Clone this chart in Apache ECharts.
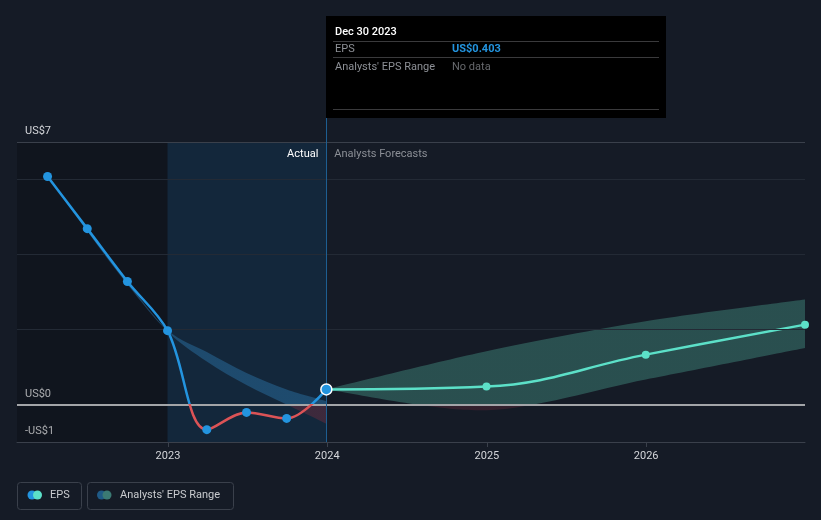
<!DOCTYPE html>
<html>
<head>
<meta charset="utf-8">
<script src="https://cdn.jsdelivr.net/npm/echarts@6/dist/echarts.min.js"></script>
<style>
html,body{margin:0;padding:0;background:#151b26;}
#c{width:821px;height:520px;}
</style>
</head>
<body>
<div id="c"></div>
<script>
// ---- data ----
const axisStart = '2022-01-20';
const axisEnd = '2026-12-31';
const pastEnd = '2022-12-31';
const actualEnd = '2023-12-30';

const epsDates = ['2022-03-31','2022-06-30','2022-09-30','2022-12-31','2023-03-31','2023-06-30','2023-09-30','2023-12-30'];
const epsValues = [6.08, 4.69, 3.28, 1.97, -0.67, -0.21, -0.37, 0.403];

const pastRangeDates = ['2022-03-31','2022-06-30','2022-09-30','2022-12-31','2023-03-31','2023-06-30','2023-09-30','2023-12-30'];
const pastRangeHigh = [6.08, 4.69, 3.28, 1.99, 1.40, 0.84, 0.40, 0.09];
const pastRangeLow  = [6.08, 4.62, 3.20, 1.95, 1.15, 0.52, 0.00, -0.51];

const forecastDates = ['2023-12-30','2024-12-31','2025-12-31','2026-12-31'];
const forecastValues = [0.403, 0.48, 1.33, 2.13];
const forecastHigh = [0.403, 1.42, 2.22, 2.80];
const forecastLow  = [0.403, -0.15, 0.67, 1.51];

const yearTicks = [2023, 2024, 2025, 2026];
const yGridValues = [2, 4, 6];
const yTopValue = 7;
const yMinValue = -1;
const yTickLabels = {'7': 'US$7', '0': 'US$0', '-1': '-US$1'};

const tooltipTitle = 'Dec 30 2023';
const tooltipRows = [['EPS', 'US$0.403'], ["Analysts' EPS Range", 'No data']];
const legendItems = ['EPS', "Analysts' EPS Range"];

// ---- helpers ----
const FONT = 'Roboto, "Noto Sans", "DejaVu Sans", sans-serif';
const ts = s => Date.parse(s + 'T00:00:00Z');
const pair = (d, v) => d.map((x, i) => [ts(x), v[i]]);
const yearTs = yearTicks.map(y => Date.UTC(y, 0, 1));

const BLUE = '#2394df', TEAL = '#5ce0c8', RED = '#dc5356';

function splitGradient(api, above, below) {
  const top = api.coord([ts(axisStart), yTopValue])[1];
  const bottom = api.coord([ts(axisStart), yMinValue])[1];
  const zero = api.coord([ts(axisStart), 0])[1];
  const f = (zero - top) / (bottom - top);
  return new echarts.graphic.LinearGradient(0, top, 0, bottom, [
    {offset: 0, color: above}, {offset: f, color: above}, {offset: f, color: below}, {offset: 1, color: below}
  ], true);
}
function curve(pts, k, first) {
  const fmt = p => p[0].toFixed(2) + ' ' + p[1].toFixed(2);
  let d = (first ? 'M' : 'L') + fmt(pts[0]);
  for (let i = 0; i < pts.length - 1; i++) {
    const p0 = pts[Math.max(i - 1, 0)], p1 = pts[i], p2 = pts[i + 1], p3 = pts[Math.min(i + 2, pts.length - 1)];
    const c1 = [p1[0] + (p2[0] - p0[0]) * k, p1[1] + (p2[1] - p0[1]) * k];
    const c2 = [p2[0] - (p3[0] - p1[0]) * k, p2[1] - (p3[1] - p1[1]) * k];
    d += ' C' + fmt(c1) + ' ' + fmt(c2) + ' ' + fmt(p2);
  }
  return d;
}
function bandSeries(id, dates, hi, lo, k, above, below) {
  return {
    id: id, type: 'custom', z: 2, silent: true, clip: true,
    data: dates.map((d, i) => [ts(d), hi[i], lo[i]]),
    encode: {x: 0, y: [1, 2]},
    renderItem: (params, api) => {
      if (params.dataIndex !== 0) return null;
      const up = dates.map((d, i) => api.coord([ts(d), hi[i]]));
      const dn = dates.map((d, i) => api.coord([ts(d), lo[i]])).reverse();
      return {type: 'path', shape: {pathData: curve(up, k, true) + ' ' + curve(dn, k, false) + ' Z'},
        style: {fill: splitGradient(api, above, below), stroke: null}};
    }
  };
}

const chart = echarts.init(document.getElementById('c'), null, {renderer: 'canvas'});

const option = {
  backgroundColor: '#151b26',
  animation: false,
  grid: {left: 17, right: 16, top: 142, bottom: 78},
  xAxis: {
    type: 'value', min: ts(axisStart), max: ts(axisEnd),
    splitLine: {show: false},
    axisLine: {onZero: false, lineStyle: {color: '#3a404b', width: 1}},
    axisTick: {customValues: yearTs, length: 5, lineStyle: {color: '#3a404b'}},
    axisLabel: {customValues: yearTs, formatter: v => String(new Date(v).getUTCFullYear()),
      color: '#d4d6da', fontSize: 11, margin: 9, fontFamily: FONT}
  },
  yAxis: {
    type: 'value', min: yMinValue, max: yTopValue, interval: 1,
    splitLine: {show: false}, axisLine: {show: false}, axisTick: {show: false},
    axisLabel: {inside: true, margin: 8, formatter: v => yTickLabels[String(v)] || '',
      color: '#d4d6da', fontSize: 11, fontFamily: FONT, verticalAlign: 'bottom', padding: [0, 0, 5, 0]}
  },
  series: [
    { // background regions + grid lines
      type: 'line', data: [], z: 1, silent: true,
      markArea: {silent: true, data: [
        [{xAxis: ts(axisStart), itemStyle: {color: 'rgba(0,0,0,0.2)'}}, {xAxis: ts(pastEnd)}],
        [{xAxis: ts(pastEnd), itemStyle: {color: 'rgba(14,64,105,0.32)'}}, {xAxis: ts(actualEnd)}]
      ]},
      markLine: {silent: true, symbol: ['none', 'none'], label: {show: false},
        lineStyle: {color: '#232a35', width: 1, type: 'solid'},
        data: yGridValues.map(v => ({yAxis: v})).concat([{yAxis: yTopValue, lineStyle: {color: '#3a404b', type: 'solid', width: 1}}])}
    },
    bandSeries('pastBand', pastRangeDates, pastRangeHigh, pastRangeLow, 0.17, 'rgba(41,110,160,0.5)', 'rgba(120,45,62,0.42)'),
    bandSeries('futBand', forecastDates, forecastHigh, forecastLow, 0.15, 'rgba(62,131,120,0.5)', 'rgba(120,45,62,0.3)'),
    { // zero line + divider
      type: 'line', data: [], z: 3, silent: true,
      markLine: {silent: true, symbol: ['none', 'none'], label: {show: false},
        data: [
          {yAxis: 0, lineStyle: {color: '#a3a5a8', width: 2, type: 'solid'}},
          {xAxis: ts(actualEnd), lineStyle: {color: '#1d5e91', width: 1, type: 'solid'}}
        ]}
    },
    { // forecast line
      id: 'fcLine', type: 'line', data: pair(forecastDates, forecastValues).map((p, i) => i === 0 ? {value: p, symbol: 'none'} : p),
      smooth: 0.4, symbol: 'circle', symbolSize: 8, showSymbol: true,
      lineStyle: {color: TEAL, width: 2.5}, itemStyle: {color: TEAL, opacity: 1}, z: 4, silent: true
    },
    { // EPS line
      id: 'epsLine', type: 'line', data: pair(epsDates, epsValues), smooth: 0.35, symbol: 'none',
      lineStyle: {width: 2.5, color: BLUE}, z: 5, silent: true
    },
    { // EPS markers
      type: 'scatter', data: pair(epsDates, epsValues).map((p, i, a) => i === a.length - 1
        ? {value: p, symbolSize: 11, itemStyle: {color: BLUE, borderColor: '#ffffff', borderWidth: 1.5, opacity: 1}} : p),
      symbolSize: 9, itemStyle: {color: BLUE, opacity: 1}, z: 6, silent: true
    }
  ]
};
chart.setOption(option);

// ---- overlays computed from the scales ----
const yTop = chart.convertToPixel({yAxisIndex: 0}, yTopValue);
const yBottom = chart.convertToPixel({yAxisIndex: 0}, yMinValue);
const yZero = chart.convertToPixel({yAxisIndex: 0}, 0);
const f = (yZero - yTop) / (yBottom - yTop);
const lineGrad = new echarts.graphic.LinearGradient(0, yTop, 0, yBottom, [
  {offset: 0, color: BLUE}, {offset: f, color: BLUE}, {offset: f, color: RED}, {offset: 1, color: RED}
], true);

const xDiv = chart.convertToPixel({xAxisIndex: 0}, ts(actualEnd));
const tipTop = 16, tipW = 340, tipH = 102;
const tipLeft = Math.round(xDiv);

const g = [];
g.push({type: 'line', shape: {x1: tipLeft + 0.5, y1: tipTop + tipH, x2: tipLeft + 0.5, y2: yTop}, style: {stroke: '#1d5e91', lineWidth: 1}, z: 50});
g.push({type: 'rect', shape: {x: tipLeft, y: tipTop, width: tipW, height: tipH}, style: {fill: '#000000'}, z: 60});
g.push({type: 'text', x: tipLeft + 9, y: tipTop + 16, style: {text: tooltipTitle, fill: '#ffffff', font: '500 11px ' + FONT, verticalAlign: 'middle'}, z: 61});
[25, 41, 93].forEach(dy => g.push({type: 'line', shape: {x1: tipLeft + 7, y1: tipTop + dy + 0.5, x2: tipLeft + tipW - 7, y2: tipTop + dy + 0.5}, style: {stroke: '#3a3a3c', lineWidth: 1}, z: 61}));
g.push({type: 'text', x: tipLeft + 9, y: tipTop + 33, style: {text: tooltipRows[0][0], fill: '#8d9096', font: '11px ' + FONT, verticalAlign: 'middle'}, z: 61});
g.push({type: 'text', x: tipLeft + 126, y: tipTop + 33, style: {text: tooltipRows[0][1], fill: BLUE, font: 'bold 11px ' + FONT, verticalAlign: 'middle'}, z: 61});
g.push({type: 'text', x: tipLeft + 9, y: tipTop + 51, style: {text: tooltipRows[1][0], fill: '#8d9096', font: '11px ' + FONT, verticalAlign: 'middle'}, z: 61});
g.push({type: 'text', x: tipLeft + 126, y: tipTop + 51, style: {text: tooltipRows[1][1], fill: '#66686c', font: '11px ' + FONT, verticalAlign: 'middle'}, z: 61});
g.push({type: 'text', x: xDiv - 8, y: yTop + 12, style: {text: 'Actual', fill: '#ffffff', font: '11px ' + FONT, align: 'right', verticalAlign: 'middle'}, z: 40});
g.push({type: 'text', x: xDiv + 8, y: yTop + 12, style: {text: 'Analysts Forecasts', fill: '#8b8f96', font: '11px ' + FONT, align: 'left', verticalAlign: 'middle'}, z: 40});
const legY = 482.5, legH = 27, cy = 495;
g.push({type: 'rect', shape: {x: 17.5, y: legY, width: 64, height: legH, r: 3}, style: {fill: 'none', stroke: '#3a404b', lineWidth: 1}, z: 40});
g.push({type: 'circle', shape: {cx: 32, cy: cy, r: 4.5}, style: {fill: BLUE}, z: 41});
g.push({type: 'circle', shape: {cx: 37.5, cy: cy, r: 4.5}, style: {fill: TEAL}, z: 42});
g.push({type: 'text', x: 50, y: cy, style: {text: legendItems[0], fill: '#c9cbcf', font: '11px ' + FONT, verticalAlign: 'middle'}, z: 41});
g.push({type: 'rect', shape: {x: 87.5, y: legY, width: 146, height: legH, r: 3}, style: {fill: 'none', stroke: '#3a404b', lineWidth: 1}, z: 40});
g.push({type: 'circle', shape: {cx: 101.5, cy: cy, r: 4.5}, style: {fill: '#1f5a86'}, z: 41});
g.push({type: 'circle', shape: {cx: 107, cy: cy, r: 4.5}, style: {fill: '#3b7a74'}, z: 42});
g.push({type: 'text', x: 120, y: cy, style: {text: legendItems[1], fill: '#c9cbcf', font: '11px ' + FONT, verticalAlign: 'middle'}, z: 41});

chart.setOption({
  series: [{id: 'epsLine', lineStyle: {width: 2.5, color: lineGrad}}],
  graphic: {elements: g}
});
</script>
</body>
</html>
